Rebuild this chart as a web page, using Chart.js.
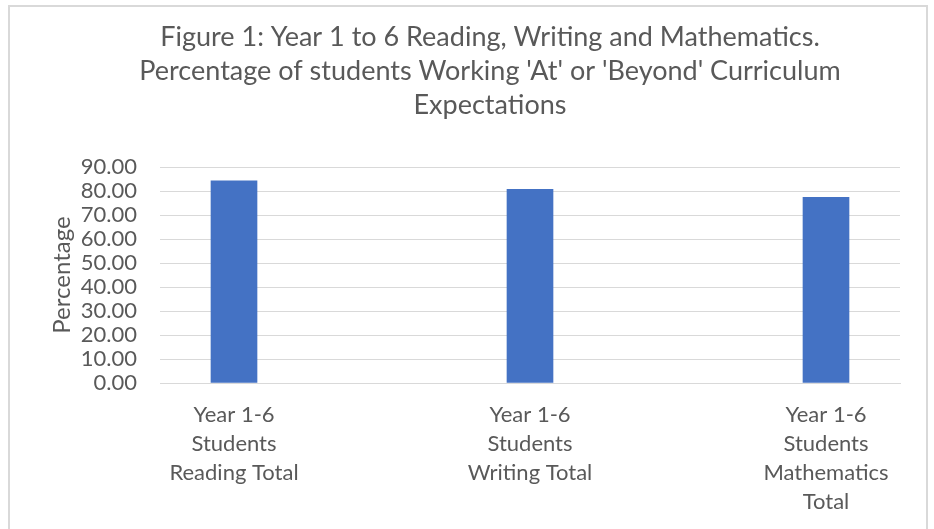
<!DOCTYPE html>
<html>
<head>
<meta charset="utf-8">
<script src="https://cdn.jsdelivr.net/npm/chart.js@4/dist/chart.umd.min.js"></script>
<style>
  html, body { margin: 0; padding: 0; background: #fff; }
  #wrap { position: relative; width: 934px; height: 529px; overflow: hidden; }
  #frame { position: absolute; left: 8px; top: 5px; width: 920px; height: 600px; border: 2px solid #d9d9d9; box-sizing: border-box; }
  canvas { position: absolute; left: 0; top: 0; }
</style>
</head>
<body>
<div id="wrap">
  <div id="frame"></div>
  <canvas id="c" width="934" height="529"></canvas>
</div>
<script>
const titleLines = [
  "Figure 1: Year 1 to 6 Reading, Writing and Mathematics.",
  "Percentage of students Working 'At' or 'Beyond' Curriculum",
  "Expectations"
];
const categories = [
  ["Year 1-6", "Students", "Reading Total"],
  ["Year 1-6", "Students", "Writing Total"],
  ["Year 1-6", "Students", "Mathematics", "Total"]
];
const percentages = [84.2, 80.7, 77.4];
const yAxisTitle = "Percentage";

const FONT = "Lato, 'Open Sans', sans-serif";
const GREY = "#595959";

const shiftTitle = {
  id: "shiftTitle",
  afterLayout(chart) {
    const t = chart.titleBlock;
    if (t) { t.left = 46; t.right = 934; t.width = 888; }
  }
};

new Chart(document.getElementById("c"), {
  type: "bar",
  data: {
    datasets: [{
      data: percentages.map((v, i) => ({ x: i, y: v })),
      backgroundColor: "#4472C4",
      borderWidth: 0,
      barThickness: 46
    }]
  },
  plugins: [shiftTitle],
  options: {
    responsive: false,
    animation: false,
    layout: { padding: { left: 46, right: 34, top: 0, bottom: 0 } },
    plugins: {
      legend: { display: false },
      tooltip: { enabled: false },
      title: {
        display: true,
        text: titleLines,
        color: GREY,
        font: { family: FONT, size: 27, weight: "normal", lineHeight: 34 / 27 },
        padding: { top: 20, bottom: 45 }
      }
    },
    scales: {
      x: {
        type: "linear",
        offset: false,
        min: -0.25,
        max: 2.25,
        afterBuildTicks: (s) => { s.ticks = categories.map((_, i) => ({ value: i })); },
        afterFit: (s) => { s.height = 146; },
        grid: { display: false, drawTicks: false, offset: false },
        border: { display: true, color: "#d9d9d9", width: 1 },
        ticks: {
          autoSkip: false,
          maxRotation: 0,
          padding: 17,
          color: GREY,
          font: { family: FONT, size: 22, lineHeight: 29 / 22 },
          callback: (v) => categories[v] || ""
        }
      },
      y: {
        min: 0,
        max: 90,
        afterFit: (s) => { s.width = 114; },
        grid: { color: "#d9d9d9", lineWidth: 1, drawTicks: false },
        border: { display: false },
        ticks: {
          autoSkip: false,
          stepSize: 10,
          padding: 23,
          color: GREY,
          font: { family: FONT, size: 22, lineHeight: 1 },
          callback: (v) => v.toFixed(2)
        },
        title: {
          display: true,
          text: yAxisTitle,
          color: GREY,
          font: { family: FONT, size: 24 },
          padding: { top: 2, bottom: 0 }
        }
      }
    }
  }
});
</script>
</body>
</html>
